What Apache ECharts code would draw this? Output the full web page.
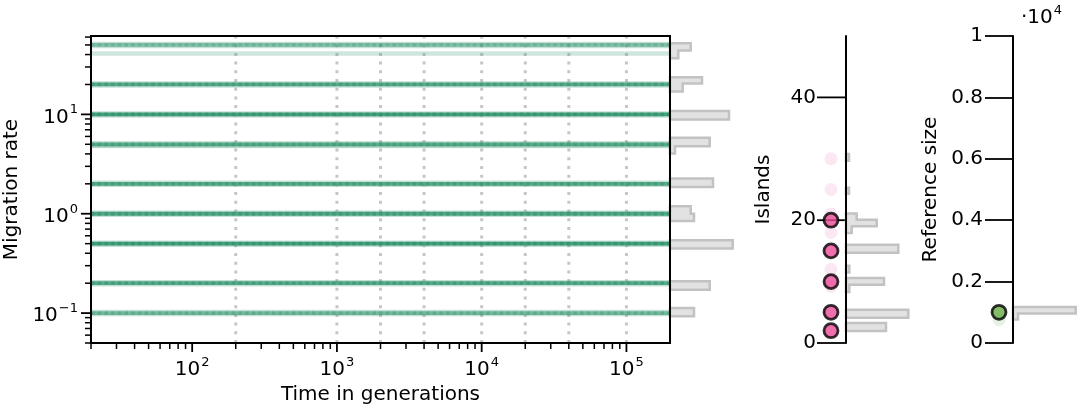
<!DOCTYPE html>
<html><head><meta charset="utf-8">
<script src="https://cdn.jsdelivr.net/npm/echarts@6/dist/echarts.min.js"></script>
<style>html,body{margin:0;padding:0;background:#fff}#c{width:1079px;height:406px}</style>
</head><body><div id="c"></div>
<script>
// ---------- data ----------
const timeMin = 20, timeMax = 200000;
const rateMin = 0.05, rateMax = 61.5;
const migrationLevels = [0.1, 0.2, 0.5, 1, 2, 5, 10, 20, 50];
const migrationOpacity = [0.6, 0.8, 0.95, 0.85, 0.8, 0.75, 0.95, 0.8, 0.5];
const migrationFaint = [41, 4.8];
const epochBoundaries = [200, 1000, 2000, 4000, 10000, 20000, 40000, 100000];
const timeMajorTicks = [100, 1000, 10000, 100000];
const timeMinorTicks = [20,30,40,50,60,70,80,90,200,300,400,500,600,700,800,900,
  2000,3000,4000,5000,6000,7000,8000,9000,20000,30000,40000,50000,60000,70000,80000,90000];
const rateMajorTicks = [0.1, 1, 10];
const rateMinorTicks = [0.05,0.06,0.07,0.08,0.09,0.2,0.3,0.4,0.5,0.6,0.7,0.8,0.9,
  2,3,4,5,6,7,8,9,20,30,40,50,60];
// histogram groups: [low, high, count]
const migrationHist = [
  [[44.0, 52.1, 20.7], [36.8, 44.0, 8.3]],
  [[20.4, 23.7, 32], [17.0, 20.4, 12.7]],
  [[8.9, 10.8, 59]],
  [[4.77, 5.83, 39.7], [4.03, 4.77, 5]],
  [[1.86, 2.26, 43]],
  [[1.0, 1.186, 20.7], [0.845, 1.0, 24]],
  [[0.446, 0.540, 62.7]],
  [[0.172, 0.209, 39.7]],
  [[0.093, 0.1125, 24]]
];
const islandsTrue = [2, 5, 10, 15, 20];
const islandsEstimates = [30, 25, 21, 18, 12, 9.2];
const islandsTicks = [0, 20, 40];
const islandsHist = [
  [[29.7, 30.8, 3]],
  [[24.3, 25.3, 3]],
  [[20.07, 21.1, 10.7], [19.0, 20.07, 30.7], [17.9, 19.0, 5.7]],
  [[14.7, 16.0, 52.3]],
  [[11.5, 12.6, 3.3]],
  [[9.5, 10.57, 38], [8.3, 9.5, 3.3]],
  [[4.13, 5.43, 62.3]],
  [[1.95, 3.25, 40]]
];
const refTrue = [1000];
const refEstimates = [760];
const refHist = [
  [[957, 1174, 62.7], [763, 957, 5]]
];

// ---------- style ----------
const FONT = 'DejaVu Sans';
const TXT = '#000';
const GREEN = '#3b9c76';
const DARKGREEN = '#2a8060';
const PINK = '#e84b97';
const LEAF = '#67ab45';

function powLabel(v) {
  const l = Math.log10(v), r = Math.round(l);
  if (Math.abs(l - r) > 1e-6) return '';
  return '{b|10}{s|' + (r < 0 ? '\u2212' + (-r) : r) + '}';
}
const powRich = {
  b: {fontSize: 20, fontFamily: FONT, color: TXT, verticalAlign: 'bottom', lineHeight: 26},
  s: {fontSize: 13, fontFamily: FONT, color: TXT, verticalAlign: 'bottom', padding: [0, 0, 11, 1]}
};

function histRender(groups) {
  return function (params, api) {
    const bins = groups[params.dataIndex];
    const pts = [api.coord([0, bins[0][1]])];
    bins.forEach(b => { pts.push(api.coord([b[2], b[1]])); pts.push(api.coord([b[2], b[0]])); });
    pts.push(api.coord([0, bins[bins.length - 1][0]]));
    return {type: 'polygon', shape: {points: pts},
      style: {fill: '#e2e2e2', stroke: '#c2c2c2', lineWidth: 2.5, lineJoin: 'miter'}};
  };
}
function tickRender(dir, len, lw) {
  return function (params, api) {
    const p = api.coord([api.value(0), api.value(1)]);
    const q = dir === 'x' ? [p[0], p[1] + len] : [p[0] - len, p[1]];
    return {type: 'line', shape: {x1: p[0], y1: p[1], x2: q[0], y2: q[1]},
      style: {stroke: '#000', lineWidth: lw}};
  };
}

const series = [];
// vertical epoch lines
epochBoundaries.forEach(b => series.push({
  type: 'line', xAxisIndex: 0, yAxisIndex: 0, data: [[b, rateMin], [b, rateMax]],
  symbol: 'none', silent: true, z: 2,
  lineStyle: {color: '#c6c6c6', width: 3, type: [3, 5.7]}
}));
// faint estimate lines
migrationFaint.forEach(lvl => series.push({
  type: 'line', xAxisIndex: 0, yAxisIndex: 0, data: [[timeMin, lvl], [timeMax, lvl]],
  symbol: 'none', silent: true, z: 3,
  lineStyle: {color: GREEN, opacity: 0.25, width: 4.5}
}));
// migration rate lines
migrationLevels.forEach((lvl, i) => {
  const d = [[timeMin, lvl], [timeMax, lvl]];
  const a = migrationOpacity[i];
  series.push({type: 'line', xAxisIndex: 0, yAxisIndex: 0, data: d, symbol: 'none', silent: true, z: 3,
    lineStyle: {color: GREEN, opacity: 0.3, width: 6.5}});
  series.push({type: 'line', xAxisIndex: 0, yAxisIndex: 0, data: d, symbol: 'none', silent: true, z: 4,
    lineStyle: {color: GREEN, opacity: a, width: 3.8}});
  series.push({type: 'line', xAxisIndex: 0, yAxisIndex: 0, data: d, symbol: 'none', silent: true, z: 5,
    lineStyle: {color: DARKGREEN, opacity: a * 0.4, width: 3.8, type: [3.5, 3.2]}});
});
// main ticks
series.push({type: 'custom', xAxisIndex: 0, yAxisIndex: 0, silent: true, z: 6,
  data: timeMinorTicks.map(v => [v, rateMin]), renderItem: tickRender('x', 6, 1.5)});
series.push({type: 'custom', xAxisIndex: 0, yAxisIndex: 0, silent: true, z: 6,
  data: timeMajorTicks.map(v => [v, rateMin]), renderItem: tickRender('x', 9, 1.8)});
series.push({type: 'custom', xAxisIndex: 0, yAxisIndex: 0, silent: true, z: 6,
  data: rateMinorTicks.map(v => [timeMin, v]), renderItem: tickRender('y', 6, 1.5)});
series.push({type: 'custom', xAxisIndex: 0, yAxisIndex: 0, silent: true, z: 6,
  data: rateMajorTicks.map(v => [timeMin, v]), renderItem: tickRender('y', 10, 1.8)});
// islands ticks (drawn from the axis line outward)
series.push({type: 'custom', xAxisIndex: 2, yAxisIndex: 2, silent: true, z: 1,
  data: islandsTicks.map(v => [1, v]), renderItem: tickRender('y', 29, 1.8)});
// histograms
series.push({type: 'custom', xAxisIndex: 1, yAxisIndex: 1, silent: true, z: 2,
  data: migrationHist.map((g, i) => [i]), renderItem: histRender(migrationHist)});
series.push({type: 'custom', xAxisIndex: 3, yAxisIndex: 3, silent: true, z: 2,
  data: islandsHist.map((g, i) => [i]), renderItem: histRender(islandsHist)});
series.push({type: 'custom', xAxisIndex: 5, yAxisIndex: 5, silent: true, z: 2,
  data: refHist.map((g, i) => [i]), renderItem: histRender(refHist)});
// points
series.push({type: 'scatter', xAxisIndex: 2, yAxisIndex: 2, silent: true, z: 3, symbolSize: 13,
  data: islandsEstimates.map(v => [0.5, v]), itemStyle: {color: PINK, opacity: 0.13}});
series.push({type: 'scatter', xAxisIndex: 2, yAxisIndex: 2, silent: true, z: 4, symbolSize: 14,
  data: islandsTrue.map(v => [0.5, v]), itemStyle: {color: PINK, borderColor: '#000', borderWidth: 2.8}});
series.push({type: 'scatter', xAxisIndex: 4, yAxisIndex: 4, silent: true, z: 3, symbolSize: 13,
  data: refEstimates.map(v => [0.5, v]), itemStyle: {color: LEAF, opacity: 0.15}});
series.push({type: 'scatter', xAxisIndex: 4, yAxisIndex: 4, silent: true, z: 4, symbolSize: 14,
  data: refTrue.map(v => [0.5, v]), itemStyle: {color: LEAF, borderColor: '#000', borderWidth: 2.8}});

const TOP = 36, H = 307;
const nameStyle = {fontSize: 20, fontFamily: FONT, color: TXT};
const labelStyle = {fontSize: 20, fontFamily: FONT, color: TXT};
const G = {outerBoundsMode: 'none', containLabel: false};
const option = {
  animation: false,
  backgroundColor: '#fff',
  grid: [
    Object.assign({left: 91, top: TOP, width: 579, height: H, show: true, borderColor: '#000', borderWidth: 2, z: 10, backgroundColor: 'transparent'}, G),
    Object.assign({left: 670, top: TOP, width: 80, height: H}, G),
    Object.assign({left: 816, top: TOP, width: 30, height: H}, G),
    Object.assign({left: 846, top: TOP, width: 80, height: H}, G),
    Object.assign({left: 985, top: TOP, width: 28, height: H}, G),
    Object.assign({left: 1013, top: TOP, width: 66, height: H}, G)
  ],
  xAxis: [
    {gridIndex: 0, type: 'log', logBase: 10, min: timeMin, max: timeMax,
      axisLine: {lineStyle: {color: '#000', width: 2}}, axisTick: {show: false}, splitLine: {show: false},
      minorTick: {show: false},
      axisLabel: {formatter: powLabel, rich: powRich, margin: 11, showMinLabel: false, showMaxLabel: false},
      name: 'Time in generations', nameLocation: 'middle', nameGap: 33, nameTextStyle: nameStyle},
    {gridIndex: 1, type: 'value', min: 0, max: 80, show: false},
    {gridIndex: 2, type: 'value', min: 0, max: 1, show: false},
    {gridIndex: 3, type: 'value', min: 0, max: 80, show: false},
    {gridIndex: 4, type: 'value', min: 0, max: 1, show: false},
    {gridIndex: 5, type: 'value', min: 0, max: 66, show: false}
  ],
  yAxis: [
    {gridIndex: 0, type: 'log', logBase: 10, min: rateMin, max: rateMax,
      axisLine: {lineStyle: {color: '#000', width: 2}}, axisTick: {show: false}, splitLine: {show: false},
      minorTick: {show: false},
      axisLabel: {formatter: powLabel, rich: powRich, margin: 13, showMinLabel: false, showMaxLabel: false},
      name: 'Migration rate', nameLocation: 'middle', nameGap: 58, nameRotate: 90, nameTextStyle: nameStyle},
    {gridIndex: 1, type: 'log', logBase: 10, min: rateMin, max: rateMax, show: false},
    {gridIndex: 2, type: 'value', min: 0, max: 50, show: false},
    {gridIndex: 3, type: 'value', min: 0, max: 50, interval: 20, z: 10,
      axisLine: {show: true, lineStyle: {color: '#000', width: 2}},
      axisTick: {show: false},
      axisLabel: Object.assign({margin: 30, showMaxLabel: false,
        formatter: v => (islandsTicks.indexOf(v) >= 0 ? String(v) : '')}, labelStyle),
      splitLine: {show: false},
      name: 'Islands', nameLocation: 'middle', nameGap: 72, nameRotate: 90, nameTextStyle: nameStyle},
    {gridIndex: 4, type: 'value', min: 0, max: 10000, show: false},
    {gridIndex: 5, type: 'value', min: 0, max: 10000, interval: 2000, z: 10,
      axisLine: {show: true, lineStyle: {color: '#000', width: 2}},
      axisTick: {show: true, length: 28, lineStyle: {color: '#000', width: 1.8}},
      axisLabel: Object.assign({margin: 30, formatter: v => String(v / 10000)}, labelStyle),
      splitLine: {show: false},
      name: 'Reference size', nameLocation: 'middle', nameGap: 72, nameRotate: 90, nameTextStyle: nameStyle}
  ],
  graphic: [{
    type: 'text', left: 1021, top: 4,
    style: {text: '{b|\u00b710}{s|4}', rich: {
      b: {fontSize: 20, fontFamily: FONT, fill: TXT, verticalAlign: 'bottom', lineHeight: 26},
      s: {fontSize: 13, fontFamily: FONT, fill: TXT, verticalAlign: 'bottom', padding: [0, 0, 11, 1]}
    }}
  }],
  series: series
};
const chart = echarts.init(document.getElementById('c'), null, {renderer: 'canvas'});
chart.setOption(option);
</script>
</body></html>
